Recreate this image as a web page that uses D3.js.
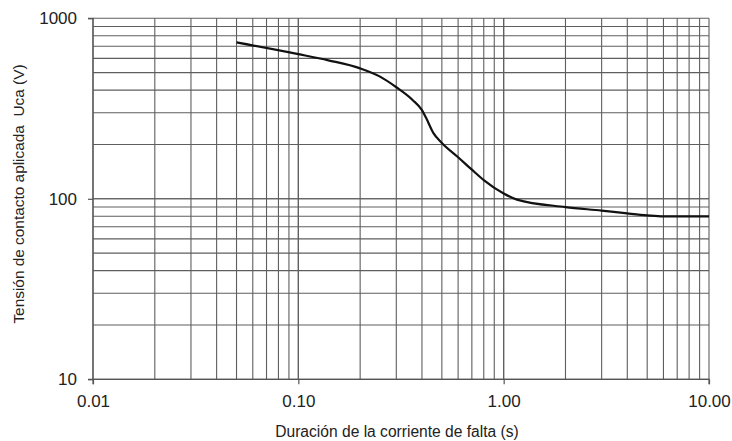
<!DOCTYPE html>
<html><head><meta charset="utf-8">
<script src="https://cdn.jsdelivr.net/npm/d3@7"></script>
<style>body{margin:0;background:#fff}svg{display:block}text{font-family:"Liberation Sans",Arial,sans-serif;fill:#222}</style>
</head><body><svg id="c" width="732" height="441"></svg>
<script>
const durations = [0.05, 0.1, 0.14, 0.2, 0.25, 0.3, 0.36, 0.4, 0.42, 0.455, 0.5, 0.6, 0.7, 0.8, 1.0, 1.16, 2.0, 3.0, 4.0, 5.0, 6.0, 10.0];
const voltages  = [735, 633, 585, 528, 475, 415, 353, 310, 279, 231, 204, 170, 145, 127, 107, 99, 90, 86, 83, 81, 80, 80];
const xTickValues = [0.01, 0.1, 1, 10];
const xTickLabels = ["0.01", "0.10", "1.00", "10.00"];
const yTickValues = [10, 100, 1000];
const yTickLabels = ["10", "100", "1000"];
const xTitle = "Duración de la corriente de falta (s)";
const yTitle = "Tensión de contacto aplicada\u00a0\u00a0Uca (V)";

const svg = d3.select("#c");
const L = 93, R = 709, T = 18.3, B = 379.3;
const x = d3.scaleLog().domain([0.01, 10]).range([L, R]);
const y = d3.scaleLog().domain([10, 1000]).range([B, T]);

const xGrid = [], yGrid = [];
[0.01, 0.1, 1].forEach(d => { for (let k = 1; k <= 10; k++) xGrid.push(d * k); });
[10, 100].forEach(d => { for (let k = 1; k <= 10; k++) yGrid.push(d * k); });

const g = svg.append("g");
g.selectAll("line.vx").data(xGrid).join("line")
  .attr("x1", d => x(d)).attr("x2", d => x(d)).attr("y1", T).attr("y2", B)
  .attr("stroke", "#5e5e5e").attr("stroke-width", 1.1);
g.selectAll("line.hy").data(yGrid).join("line")
  .attr("y1", d => y(d)).attr("y2", d => y(d)).attr("x1", L).attr("x2", R)
  .attr("stroke", "#5e5e5e").attr("stroke-width", 1.1);

const xAxis = d3.axisBottom(x).tickValues(xTickValues).tickFormat((d, i) => xTickLabels[i]).tickSize(5).tickPadding(11);
const yAxis = d3.axisLeft(y).tickValues(yTickValues).tickFormat((d, i) => yTickLabels[i]).tickSize(5).tickPadding(11);
const gx = svg.append("g").attr("transform", `translate(0,${B})`).call(xAxis);
const gy = svg.append("g").attr("transform", `translate(${L},0)`).call(yAxis);
[gx, gy].forEach(a => {
  a.select(".domain").attr("stroke", "#555").attr("stroke-width", 1.2);
  a.selectAll(".tick line").attr("stroke", "#555").attr("stroke-width", 1.2);
  a.selectAll(".tick text").attr("font-size", 17).attr("fill", "#222").attr("font-family", "Liberation Sans, Arial, sans-serif");
});
gy.select(".domain").attr("d", `M-5,${T}H0V${B}H-5`);
gx.select(".domain").attr("d", `M${L},5V0H${R}V5`);

const line = d3.line().x((d, i) => x(durations[i])).y((d, i) => y(voltages[i])).curve(d3.curveMonotoneX);
svg.append("path").datum(voltages).attr("d", line)
  .attr("fill", "none").attr("stroke", "#111").attr("stroke-width", 2.2).attr("stroke-linejoin", "round");

svg.append("text").attr("x", 397).attr("y", 437).attr("text-anchor", "middle").attr("font-size", 15.6).text(xTitle);
svg.append("text").attr("transform", "translate(24,194) rotate(-90)").attr("text-anchor", "middle").attr("font-size", 15.4).text(yTitle);
</script></body></html>
